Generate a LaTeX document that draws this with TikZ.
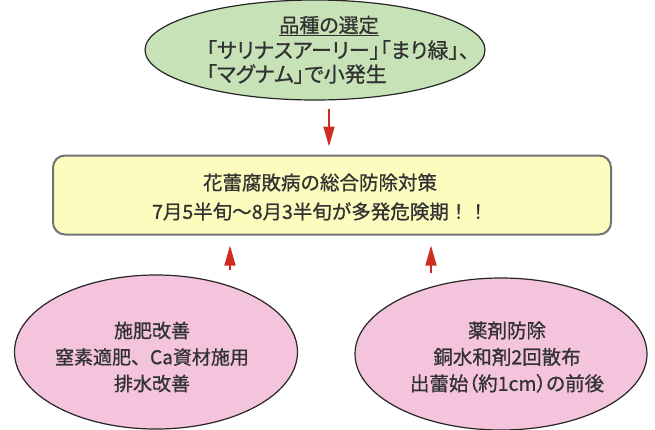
\documentclass[tikz,border=0pt]{standalone}
\usepackage{fontspec}
\newfontfamily\jp[FakeBold=0.8]{Noto Sans CJK JP}
\newfontfamily\jpp[FakeBold=0.8,RawFeature=+palt]{Noto Sans CJK JP}
\usetikzlibrary{shapes.geometric,arrows.meta}
\definecolor{greenfill}{RGB}{200,226,184}
\definecolor{pinkfill}{RGB}{244,196,220}
\definecolor{yellowfill}{RGB}{252,252,190}
\definecolor{arrred}{RGB}{205,45,35}
\definecolor{txt}{RGB}{50,50,50}
\begin{document}
\begin{tikzpicture}[x=1pt,y=-1pt,
  every node/.style={font=\jp\fontsize{19}{26.5}\selectfont,text=txt},
  oval/.style={ellipse,draw=black!85,line width=1.2pt,inner sep=0pt},
  arr/.style={draw=arrred,line width=1.6pt,-{Triangle[width=11pt,length=20pt]}}]
\useasboundingbox (0,0) rectangle (655,429);
% top ellipse
\node[oval,fill=greenfill,minimum width=340pt,minimum height=100pt] (top) at (315,50) {};
\node[font=\jpp\fontsize{20}{24}\selectfont] (toptitle) at (329,26) {\underline{品種の選定}};
\node[align=left,font=\jpp\fontsize{21}{24}\selectfont] (toptext) at (338,62) {「サリナスアーリー」「まり緑」、\\「マグナム」で小発生};
% central box
\node[draw=black!55,line width=2pt,fill=yellowfill,rounded corners=12pt,minimum width=558pt,minimum height=79pt] (box) at (332,195) {};
\node[align=center,font=\jp\fontsize{19.5}{29}\selectfont] (boxtext) at (320,197) {花蕾腐敗病の総合防除対策\\7月5半旬～8月3半旬が多発危険期！！};
% bottom ellipses
\node[oval,fill=pinkfill,minimum width=283pt,minimum height=154pt] (left) at (156,352) {};
\node[align=center] (lefttext) at (152,357) {施肥改善\\窒素適肥、Ca資材施用\\排水改善};
\node[oval,fill=pinkfill,minimum width=292pt,minimum height=152pt] (right) at (501,354) {};
\node[align=center,font=\jpp\fontsize{19.5}{26.5}\selectfont] (righttext) at (507,357) {薬剤防除\\銅水和剤2回散布\\出蕾始（約1cm）の前後};
% arrows
\coordinate (a1) at (329,0);
\coordinate (a2) at (230,0);
\coordinate (a3) at (431,0);
\draw[arr,shorten <=8pt,shorten >=8pt] (top.south -| a1) -- (box.north -| a1);
\draw[arr,shorten <=4pt,shorten >=10pt] (left.north -| a2) -- (box.south -| a2);
\draw[arr,shorten <=4pt,shorten >=10pt] (right.north -| a3) -- (box.south -| a3);
\end{tikzpicture}
\end{document}
